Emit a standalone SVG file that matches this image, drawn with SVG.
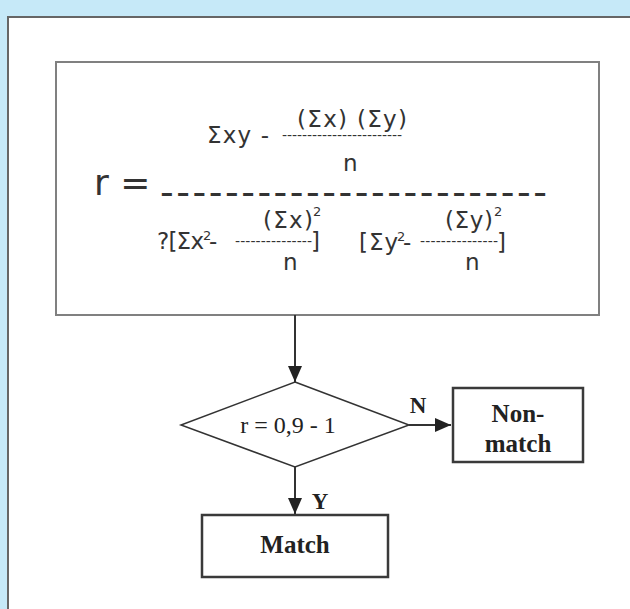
<svg xmlns="http://www.w3.org/2000/svg" width="630" height="609" viewBox="0 0 630 609">
<style>
.f{font-family:"DejaVu Sans",Verdana,sans-serif;font-size:23px;fill:#333}
.sup{font-family:"DejaVu Sans",Verdana,sans-serif;font-size:13px;fill:#333}
.d{font-family:"DejaVu Sans",Verdana,sans-serif;font-size:14px;fill:#333}
.t{font-family:"Liberation Serif","Times New Roman",serif;fill:#222}
.b{font-family:"Liberation Serif","Times New Roman",serif;font-weight:bold;fill:#222}
.box{fill:#fff;stroke:#3a3a3a;stroke-width:2.5}
.con{stroke:#333;stroke-width:2;fill:none}
</style>
<defs>
<marker id="ah" markerUnits="userSpaceOnUse" markerWidth="18" markerHeight="16" refX="16" refY="7" orient="auto">
<path d="M0,0 L16,7 L0,14 z" fill="#222"/>
</marker>
</defs>
<rect x="0" y="0" width="630" height="609" fill="#c6e9f8"/>
<rect x="8" y="17" width="640" height="620" fill="#fff" stroke="#666" stroke-width="2"/>

<g id="formula">
<rect x="56" y="62" width="543" height="253" fill="#fff" stroke="#808080" stroke-width="2"/>
<text class="f" x="297" y="127" textLength="110" lengthAdjust="spacing">(Σx) (Σy)</text>
<text class="f" x="207" y="143" textLength="62" lengthAdjust="spacing">Σxy -</text>
<text class="d" x="282" y="140" textLength="120" lengthAdjust="spacing">------------------------</text>
<text class="f" x="343" y="171">n</text>
<text style="font-family:'DejaVu Sans',Verdana,sans-serif;font-size:36px;fill:#333" x="94" y="195">r =</text>
<text style="font-family:'DejaVu Sans',Verdana,sans-serif;font-size:38px;fill:#333" x="160" y="205" textLength="387" lengthAdjust="spacing">------------------------</text>
<text class="f" x="157" y="249" textLength="47" lengthAdjust="spacing">?[Σx</text>
<text class="sup" x="203" y="240">2</text>
<text class="f" x="209" y="249">-</text>
<text class="d" x="235" y="246" textLength="77" lengthAdjust="spacing">---------------</text>
<text class="f" x="311" y="249">]</text>
<text class="f" x="263" y="228" textLength="50" lengthAdjust="spacing">(Σx)</text>
<text class="sup" x="313" y="216">2</text>
<text class="f" x="283" y="270">n</text>
<text class="f" x="359" y="250" textLength="39" lengthAdjust="spacing">[Σy</text>
<text class="sup" x="397" y="241">2</text>
<text class="f" x="403" y="250">-</text>
<text class="d" x="420" y="246" textLength="78" lengthAdjust="spacing">---------------</text>
<text class="f" x="497" y="250">]</text>
<text class="f" x="445" y="228" textLength="48" lengthAdjust="spacing">(Σy)</text>
<text class="sup" x="494" y="216">2</text>
<text class="f" x="465" y="270">n</text>
</g>

<g id="decision">
<polygon points="295,382 409,425 295,467 181,425" fill="#fff" stroke="#333" stroke-width="1.5"/>
<text class="t" x="288" y="433" font-size="24" text-anchor="middle">r = 0,9 - 1</text>
</g>

<g id="nonmatch">
<rect class="box" x="453" y="388" width="130" height="74"/>
<text class="b" x="518" y="422" font-size="25" text-anchor="middle">Non-</text>
<text class="b" x="518" y="452" font-size="25" text-anchor="middle">match</text>
</g>

<g id="match">
<rect class="box" x="202" y="515" width="186" height="62"/>
<text class="b" x="295" y="553" font-size="25" text-anchor="middle">Match</text>
</g>

<g id="connectors">
<line class="con" x1="295" y1="315" x2="295" y2="382" marker-end="url(#ah)"/>
<line class="con" x1="409" y1="425" x2="451" y2="425" marker-end="url(#ah)"/>
<line class="con" x1="295" y1="467" x2="295" y2="514" marker-end="url(#ah)"/>
<text class="b" x="418" y="413" font-size="23" text-anchor="middle">N</text>
<text class="b" x="320" y="509" font-size="23" text-anchor="middle">Y</text>
</g>
</svg>
